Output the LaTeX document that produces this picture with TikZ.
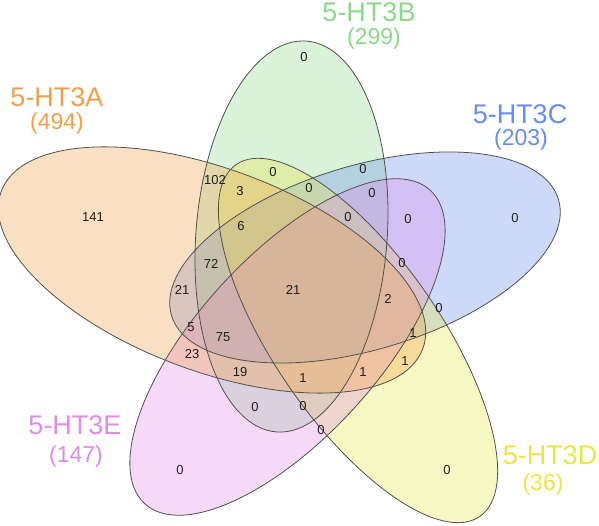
\documentclass[tikz,border=0pt]{standalone}
\usepackage{fontspec}
\setmainfont{Liberation Sans}
\usepackage{tikz}
\usetikzlibrary{positioning}
\definecolor{htA}{HTML}{F0A048}
\definecolor{htB}{HTML}{8CD78C}
\definecolor{htC}{HTML}{6A8CF0}
\definecolor{htD}{HTML}{E6E646}
\definecolor{htE}{HTML}{E08CE6}
\definecolor{rim}{HTML}{505050}
\definecolor{ink}{HTML}{1E1E1E}
\tikzset{
  setfill/.style={fill=#1,fill opacity=0.33,draw=none},
  setrim/.style={draw=rim,line width=0.8pt},
  count/.style={text=ink,font=\fontsize{13}{13}\selectfont,inner sep=0pt},
  setname/.style={text=#1,font=\fontsize{27}{27}\selectfont,inner sep=0pt},
  setsize/.style={text=#1,font=\fontsize{23}{23}\selectfont,inner sep=0pt}
}

\begin{document}
\begin{tikzpicture}[x=1pt,y=-1pt]
  \useasboundingbox (0,0) rectangle (599,526);

  % ellipse centres
  \coordinate (cA) at (212,270);
  \coordinate (cB) at (291.5,236.5);
  \coordinate (cC) at (365,257.5);
  \coordinate (cD) at (358,340.5);
  \coordinate (cE) at (287.5,347);

  \fill[setfill=htB,rotate around={85.6:(cB)}] (cB) ellipse [x radius=196,y radius=95.6];
  \fill[setfill=htC,rotate around={16.7:(cC)}] (cC) ellipse [x radius=202,y radius=92];
  \fill[setfill=htD,rotate around={-55.3:(cD)}] (cD) ellipse [x radius=214,y radius=83];
  \fill[setfill=htE,rotate around={47.7:(cE)}] (cE) ellipse [x radius=212,y radius=90.5];
  \fill[setfill=htA,rotate around={-20.5:(cA)}] (cA) ellipse [x radius=225,y radius=101];

  \draw[setrim,rotate around={-20.5:(cA)}] (cA) ellipse [x radius=225,y radius=101];
  \draw[setrim,rotate around={85.6:(cB)}] (cB) ellipse [x radius=196,y radius=95.6];
  \draw[setrim,rotate around={16.7:(cC)}] (cC) ellipse [x radius=202,y radius=92];
  \draw[setrim,rotate around={-55.3:(cD)}] (cD) ellipse [x radius=214,y radius=83];
  \draw[setrim,rotate around={47.7:(cE)}] (cE) ellipse [x radius=212,y radius=90.5];

  % set names and sizes
  \node[setname=htA] (nameA) at (57,97) {5-HT3A};
  \node[setsize=htA] (sizeA) at (57,124) {(494)};
  \node[setname=htB] (nameB) at (369,12) {5-HT3B};
  \node[setsize=htB] (sizeB) at (374,39) {(299)};
  \node[setname=htC] (nameC) at (520,114) {5-HT3C};
  \node[setsize=htC] (sizeC) at (521,140) {(203)};
  \node[setname=htD] (nameD) at (550,455) {5-HT3D};
  \node[setsize=htD] (sizeD) at (543,485) {(36)};
  \node[setname=htE] (nameE) at (75,425) {5-HT3E};
  \node[setsize=htE] (sizeE) at (76,457) {(147)};

  % region counts
  \node[count] (nA) at (93,217) {141};
  \node[count] (nB) at (304,57) {0};
  \node[count] (nC) at (515,218) {0};
  \node[count] (nD) at (447,470) {0};
  \node[count] (nE) at (180,470) {0};
  \node[count] (nAB) at (215,180) {102};
  \node[count] (nABD) at (240,191) {3};
  \node[count] (nBD) at (273,172) {0};
  \node[count] (nBC) at (363,169) {0};
  \node[count] (nBCD) at (309,188) {0};
  \node[count] (nBCE) at (372,193) {0};
  \node[count] (nCE) at (408,219) {0};
  \node[count] (nBCDE) at (348,217) {0};
  \node[count] (nABCD) at (241,226) {6};
  \node[count] (nABC) at (211,264) {72};
  \node[count] (nCDE) at (402,263) {0};
  \node[count] (nAC) at (182,290) {21};
  \node[count] (nABCDE) at (293,290) {21};
  \node[count] (nACDE) at (388,299) {2};
  \node[count] (nCD) at (439,308) {0};
  \node[count] (nACE) at (191,327) {5};
  \node[count] (nABCE) at (223,337) {75};
  \node[count] (nACD) at (413,333) {1};
  \node[count] (nAE) at (192,354) {23};
  \node[count] (nAD) at (405,361) {1};
  \node[count] (nABE) at (240,372) {19};
  \node[count] (nABDE) at (303,378) {1};
  \node[count] (nADE) at (363,372) {1};
  \node[count] (nBE) at (255,407) {0};
  \node[count] (nBDE) at (303,406) {0};
  \node[count] (nDE) at (321,430) {0};
\end{tikzpicture}
\end{document}
